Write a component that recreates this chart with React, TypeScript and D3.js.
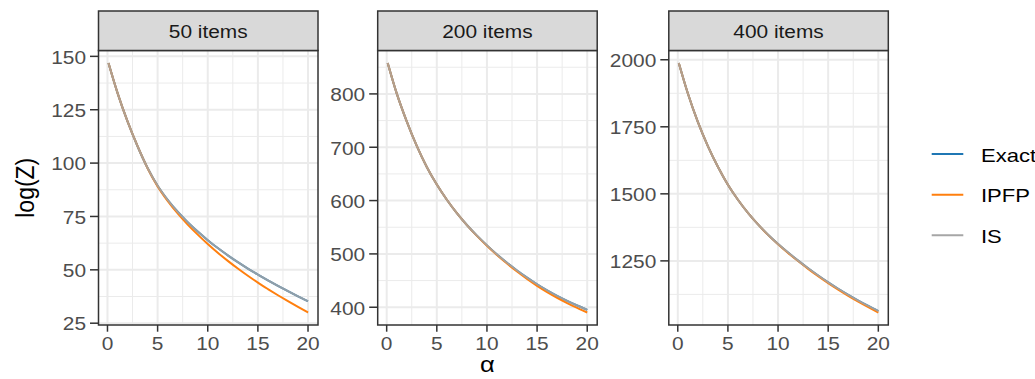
import React from "react";
import * as d3 from "d3";

const alphas = [0.1, 1, 2, 3, 4, 5, 6, 7, 8, 9, 10, 11, 12, 13, 14, 15, 16, 17, 18, 19, 20];

const exact50 = [146.9, 132.9, 119.5, 107.9, 97.7, 89.4, 82.8, 77.2, 72.3, 67.9, 63.9, 60.2, 56.8, 53.6, 50.6, 47.8, 45.1, 42.5, 40.0, 37.6, 35.3];
const ipfp50 = [146.9, 132.9, 119.5, 107.9, 97.6, 89.1, 82.3, 76.4, 71.2, 66.5, 62.1, 58.0, 54.2, 50.6, 47.2, 44.0, 41.0, 38.1, 35.3, 32.6, 30.0];
const is50 = [146.9, 132.9, 119.5, 107.9, 97.7, 89.4, 82.8, 77.2, 72.3, 67.9, 63.9, 60.2, 56.8, 53.6, 50.6, 47.8, 45.1, 42.5, 40.0, 37.6, 35.3];

const exact200 = [858, 801, 748.5, 702.5, 663, 630, 601.5, 576.5, 554.2, 534.2, 516, 499, 483.4, 469, 455.6, 443.1, 431.8, 421.5, 412, 403.2, 395.0];
const ipfp200 = [858, 801, 748.5, 702.5, 663, 630, 601.5, 576.5, 554.1, 533.9, 515.3, 497.9, 481.9, 467, 453.1, 440.2, 428.5, 417.8, 407.9, 398.7, 390.1];
const is200 = [858, 801, 748.5, 702.5, 663, 630, 601.5, 576.5, 554.2, 534.2, 516, 499, 483.4, 469, 455.6, 443.1, 431.8, 421.5, 412, 403.2, 395.0];

const exact400 = [1988, 1875, 1768, 1678, 1601, 1534, 1478, 1429, 1386, 1347.5, 1313, 1281, 1251, 1222.5, 1195.5, 1170, 1146, 1123.5, 1102.2, 1081.9, 1062.4];
const ipfp400 = [1988, 1875, 1768, 1678, 1601, 1534, 1478, 1429, 1386, 1347, 1312, 1279.6, 1249.2, 1220.3, 1192.9, 1167, 1142.6, 1119.7, 1098, 1077.3, 1057.4];
const is400 = [1988, 1875, 1768, 1678, 1601, 1534, 1478, 1429, 1386, 1347.5, 1313, 1281, 1251, 1222.5, 1195.5, 1170, 1146, 1123.5, 1102.2, 1081.9, 1062.4];

const panelTitles = ["50 items", "200 items", "400 items"];
const methods = ["Exact", "IPFP", "IS"];
const colors = ["#1f77b4", "#ff7f0e", "#a6a6a6"];
const xTicks = [0, 5, 10, 15, 20];
const xMinor = [2.5, 7.5, 12.5, 17.5];
const yTicks = [
  [25, 50, 75, 100, 125, 150],
  [400, 500, 600, 700, 800],
  [1250, 1500, 1750, 2000],
];

const panels = [
  { title: panelTitles[0], series: [exact50, ipfp50, is50], ticks: yTicks[0] },
  { title: panelTitles[1], series: [exact200, ipfp200, is200], ticks: yTicks[1] },
  { title: panelTitles[2], series: [exact400, ipfp400, is400], ticks: yTicks[2] },
];

const W = 1035, H = 379;
const lefts = [98.5, 377.7, 668.8];
const pw = 219.5;
const stripTop = 11, top = 50.5, bottom = 325;
const SX = 1.16; // text is a bit wider than tall in the reference
const font = "'Liberation Sans', Arial, Helvetica, sans-serif";

function T({ x, y, size, fill, anchor = "start", rotate = 0, children }) {
  return (
    <text
      transform={`translate(${x},${y}) scale(${SX},1)${rotate ? ` rotate(${rotate})` : ""}`}
      fontSize={size}
      fill={fill}
      textAnchor={anchor}
      fontFamily={font}
    >
      {children}
    </text>
  );
}

function Panel({ p, left }) {
  const right = left + pw;
  const xr = d3.extent(alphas);
  const xe = (xr[1] - xr[0]) * 0.05;
  const x = d3.scaleLinear().domain([xr[0] - xe, xr[1] + xe]).range([left, right]);
  const all = p.series.flat();
  const yr = d3.extent(all);
  const ye = (yr[1] - yr[0]) * 0.05;
  const y = d3.scaleLinear().domain([yr[0] - ye, yr[1] + ye]).range([bottom, top]);
  const step = p.ticks[1] - p.ticks[0];
  const yMinor = d3
    .range(p.ticks[0] - step / 2, p.ticks[p.ticks.length - 1] + step, step)
    .filter(v => v > y.domain()[0] && v < y.domain()[1]);

  const line = d3
    .line()
    .x((d, i) => x(alphas[i]))
    .y(d => y(d))
    .curve(d3.curveMonotoneX);

  return (
    <g>
      <rect x={left} y={top} width={pw} height={bottom - top} fill="white" />
      {yMinor.map(v => (
        <line key={"ym" + v} x1={left} x2={right} y1={y(v)} y2={y(v)} stroke="#ebebeb" strokeWidth={1} />
      ))}
      {xMinor.map(v => (
        <line key={"xm" + v} x1={x(v)} x2={x(v)} y1={top} y2={bottom} stroke="#ebebeb" strokeWidth={1} />
      ))}
      {p.ticks.map(v => (
        <line key={"yM" + v} x1={left} x2={right} y1={y(v)} y2={y(v)} stroke="#ebebeb" strokeWidth={2} />
      ))}
      {xTicks.map(v => (
        <line key={"xM" + v} x1={x(v)} x2={x(v)} y1={top} y2={bottom} stroke="#ebebeb" strokeWidth={2} />
      ))}
      {p.series.map((s, i) => (
        <path
          key={i}
          d={line(s)}
          fill="none"
          stroke={colors[i]}
          strokeWidth={2}
          opacity={i === 2 ? 0.85 : 1}
        />
      ))}
      <rect x={left} y={top} width={pw} height={bottom - top} fill="none" stroke="#333333" strokeWidth={1.5} />
      <rect x={left} y={stripTop} width={pw} height={top - stripTop} fill="#d9d9d9" stroke="#333333" strokeWidth={1.5} />
      <T x={(left + right) / 2} y={38.3} size={18} fill="#1a1a1a" anchor="middle">{p.title}</T>
      {p.ticks.map(v => (
        <g key={"yt" + v}>
          <line x1={left - 8.5} x2={left} y1={y(v)} y2={y(v)} stroke="#333333" strokeWidth={1.5} />
          <T x={left - 12.5} y={y(v) + 7.3} size={18} fill="#4d4d4d" anchor="end">{v}</T>
        </g>
      ))}
      {xTicks.map(v => (
        <g key={"xt" + v}>
          <line x1={x(v)} x2={x(v)} y1={bottom} y2={bottom + 6.7} stroke="#333333" strokeWidth={1.5} />
          <T x={x(v)} y={350} size={18} fill="#4d4d4d" anchor="middle">{v}</T>
        </g>
      ))}
    </g>
  );
}

export default function App() {
  const legendY = d3.scaleLinear().domain([0, 2]).range([154, 235.3]);
  return (
    <svg width={W} height={H} style={{ position: "absolute", left: 0, top: 0, background: "white" }}>
      <rect x={0} y={0} width={W} height={H} fill="white" />
      {panels.map((p, i) => (
        <Panel key={i} p={p} left={lefts[i]} />
      ))}
      <T x={33.5} y={(top + bottom) / 2} size={23} fill="black" anchor="middle" rotate={-90}>log(Z)</T>
      <T x={lefts[1] + pw / 2} y={372} size={22} fill="black" anchor="middle">α</T>
      {methods.map((m, i) => (
        <g key={m}>
          <line x1={931.7} x2={963.3} y1={legendY(i)} y2={legendY(i)} stroke={colors[i]} strokeWidth={2} />
          <T x={981} y={legendY(i) + 7.5} size={19} fill="black">{m}</T>
        </g>
      ))}
    </svg>
  );
}
